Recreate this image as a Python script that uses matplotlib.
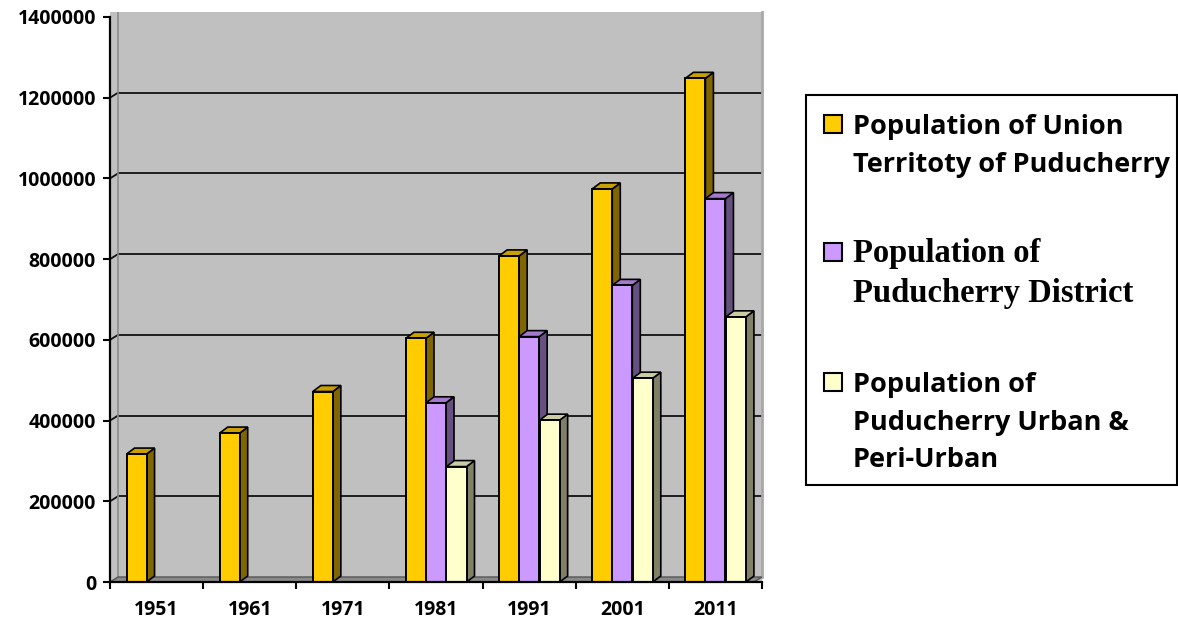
import matplotlib
matplotlib.use('Agg')
import matplotlib.pyplot as plt
from matplotlib.patches import Polygon, Rectangle
import matplotlib.transforms as mtransforms

# ---------------- data ----------------
years = ['1951', '1961', '1971', '1981', '1991', '2001', '2011']
ut_pop = [317000, 369000, 472000, 604000, 808000, 974000, 1248000]
district_pop = [None, None, None, 444000, 608000, 735000, 950000]
urban_pop = [None, None, None, 286000, 401000, 505000, 657000]
series_labels = [
    'Population of Union\nTerritoty of Puducherry',
    'Population of\nPuducherry District',
    'Population of\nPuducherry Urban &\nPeri-Urban',
]
yticks = [0, 200000, 400000, 600000, 800000, 1000000, 1200000, 1400000]

# ---------------- layout ----------------
W, H = 1178, 621
fig = plt.figure(figsize=(W / 100, H / 100), dpi=100)
fig.patch.set_facecolor('white')

AX_L, AX_R, AX_B, AX_T = 110, 762, 582, 12
ax = fig.add_axes([AX_L / W, 1 - AX_B / H, (AX_R - AX_L) / W, (AX_B - AX_T) / H])
ymax_front = 1400000
px_per_val = 565 / ymax_front
ax.set_xlim(-0.5, len(years) - 0.5)
ax.set_ylim(0, (AX_B - AX_T) / px_per_val)
ax.set_facecolor('#C0C0C0')

px_per_x = (AX_R - AX_L) / len(years)
DX_PX, DY_PX = 8, 6          # bar depth
WX_PX, WY_PX = 8, 5          # wall depth
ddx = DX_PX / px_per_x
ddy = DY_PX / px_per_val

# back-wall grid lines (offset to the back)
wall_off = mtransforms.ScaledTranslation(WX_PX / 100, WY_PX / 100, fig.dpi_scale_trans)
for v in yticks[1:-1]:
    ax.plot([-0.5, len(years) - 0.5], [v, v], color='#111111', lw=1.3,
            transform=ax.transData + wall_off, zorder=1, clip_on=True)
    ax.plot([-0.5, -0.5 + WX_PX / px_per_x], [v, v + WY_PX / px_per_val],
            color='#111111', lw=1.3, zorder=1, clip_on=False)
# back wall left edge
ax.plot([-0.5 + WX_PX / px_per_x] * 2, [WY_PX / px_per_val, ax.get_ylim()[1]],
        color='#8c8c8c', lw=1.2, zorder=1)
# back wall right edge
ax.plot([len(years) - 0.5] * 2, [WY_PX / px_per_val, ax.get_ylim()[1]],
        color='#a8a8a8', lw=2.0, zorder=1, clip_on=False)

# floor
xr_end = len(years) - 0.5
floor = Polygon([(-0.5, 0), (xr_end - WX_PX / px_per_x, 0), (xr_end, WY_PX / px_per_val),
                 (-0.5 + WX_PX / px_per_x, WY_PX / px_per_val)], closed=True,
                facecolor='#8a8a8a', edgecolor='#555555', lw=1.0, zorder=1.5)
ax.add_patch(floor)

# bars
bw = 0.215
series = [
    (ut_pop, -bw, '#FFCC00', '#7F6600', '#C9A000', 3),
    (district_pop, 0.0, '#CC99FF', '#665080', '#A37ACC', 4),
    (urban_pop, bw + 0.005, '#FFFFCC', '#808066', '#CCCCA3', 5),
]
for vals, off, cf, cs, ct, z in series:
    xs = [i + off for i, v in enumerate(vals) if v is not None]
    hs = [v for v in vals if v is not None]
    for x, v in zip(xs, hs):
        xl, xr = x - bw / 2, x + bw / 2
        side = Polygon([(xr, 0), (xr + ddx, ddy), (xr + ddx, v + ddy), (xr, v)], closed=True,
                       facecolor=cs, edgecolor='black', lw=1.2, zorder=z)
        top = Polygon([(xl, v), (xr, v), (xr + ddx, v + ddy), (xl + ddx, v + ddy)], closed=True,
                      facecolor=ct, edgecolor='black', lw=1.2, zorder=z + 0.1)
        ax.add_patch(side)
        ax.add_patch(top)
    ax.bar(xs, hs, width=bw, color=cf, edgecolor='black', linewidth=1.4, zorder=z + 0.2)

# axes, ticks
for s in ['top', 'right']:
    ax.spines[s].set_visible(False)
ax.spines['left'].set_linewidth(1.6)
ax.spines['bottom'].set_linewidth(1.6)
ax.spines['left'].set_bounds(0, ymax_front)
ax.spines['left'].set_zorder(10)
ax.spines['bottom'].set_zorder(10)

tick_font = dict(family='Open Sans', weight='bold', size=14)
ax.set_yticks(yticks)
ax.set_yticklabels([str(v) for v in yticks], fontdict=tick_font)
ax.tick_params(axis='y', direction='out', length=5, width=1.5, pad=5)

ax.set_xticks(range(len(years)))
ax.set_xticklabels(years, fontdict=tick_font)
ax.set_xticks([i - 0.5 for i in range(len(years) + 1)], minor=True)
ax.tick_params(axis='x', which='major', length=0, pad=13)
ax.tick_params(axis='x', which='minor', direction='out', length=5, width=1.5)

# ---------------- legend (manual) ----------------
def fx(px):
    return px / W

def fy(py):
    return 1 - py / H

fig.add_artist(Rectangle((fx(806), fy(485)), fx(1177) - fx(806), fy(95) - fy(485),
                         transform=fig.transFigure, fill=False, edgecolor='black', lw=1.5))
sans_font = dict(family='Open Sans', weight='bold', size=19.5)
serif_font = dict(family='Liberation Serif', weight='bold', size=23.5)
legend_entries = [
    (series_labels[0], '#FFCC00', 115, [134, 172], sans_font),
    (series_labels[1], '#CC99FF', 243, [262, 302], serif_font),
    (series_labels[2], '#FFFFCC', 373, [392, 430, 467], sans_font),
]
for label, col, sq_top, baselines, font in legend_entries:
    fig.add_artist(Rectangle((fx(824), fy(sq_top + 18)), fx(842) - fx(824), fy(sq_top) - fy(sq_top + 18),
                             transform=fig.transFigure, facecolor=col, edgecolor='black', lw=1.5))
    for line, b in zip(label.split('\n'), baselines):
        fig.text(fx(853), fy(b), line, ha='left', va='baseline', fontdict=font)

fig.savefig('out.png', dpi=100)
